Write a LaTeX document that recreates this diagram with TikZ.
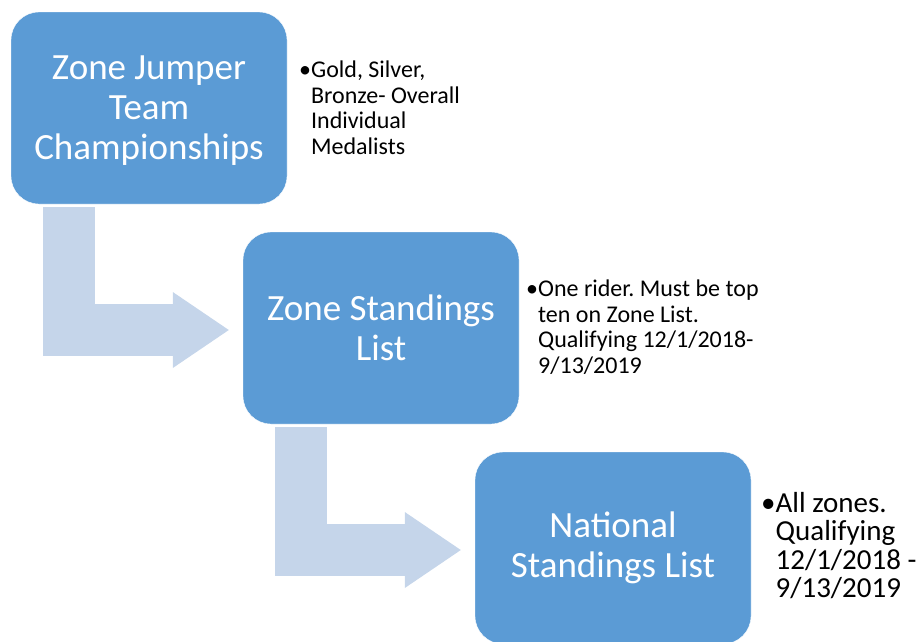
\documentclass[tikz,border=0pt]{standalone}
\usepackage{fontspec}
\setmainfont{Carlito}
\frenchspacing
\usepackage{tikz}
\usetikzlibrary{arrows.meta,positioning,backgrounds}
\definecolor{stageblue}{RGB}{91,155,213}
\definecolor{flowblue}{RGB}{197,213,234}
\tikzstyle{stage} = [rectangle, rounded corners=28pt, minimum width=276pt, minimum height=192pt, align=center, text=white, draw=white, fill=stageblue, font=\fontsize{37}{40}\selectfont]
\tikzstyle{note} = [anchor=north west, inner sep=0pt, align=left, font=\fontsize{24}{25.5}\selectfont]
\tikzstyle{bentarrow} = [line width=52pt, color=flowblue, line join=miter, -{Triangle[length=56pt, width=76pt, line width=0pt]}]

\begin{document}
\begin{tikzpicture}[x=1pt, y=-1pt]
\useasboundingbox (0,0) rectangle (920,641);
\clip (0,0) rectangle (920,641);

% stages
\node[stage, text depth=0pt] (zjtc) at (149,108) {Zone Jumper\\Team\\Championships};
\node[stage] (zsl) at (381,328) {Zone Standings\\List};
\node[stage] (nsl) at (613,548) {National\\Standings List};

% flow between stages
\begin{scope}[on background layer]
\draw[bentarrow] ([xshift=-80pt,yshift=-3pt]zjtc.south) |- ([xshift=-14pt,yshift=-2pt]zsl.west);
\draw[bentarrow] ([xshift=-80pt,yshift=-3pt]zsl.south) |- ([xshift=-14pt,yshift=-2pt]nsl.west);
\end{scope}

% notes
\node[note] (zjtc_note) at (299,61) {\textbullet Gold, Silver,\\\hphantom{\textbullet}Bronze- Overall\\\hphantom{\textbullet}Individual\\\hphantom{\textbullet}Medalists};
\node[note] (zsl_note) at (526,280) {\textbullet One rider. Must be top\\\hphantom{\textbullet}ten on Zone List.\\\hphantom{\textbullet}Qualifying 12/1/2018-\\\hphantom{\textbullet}9/13/2019};
\node[note, font=\fontsize{29}{28.5}\selectfont] (nsl_note) at (761,492) {\textbullet All zones.\\\hphantom{\textbullet}Qualifying\\\hphantom{\textbullet}12/1/2018 -\\\hphantom{\textbullet}9/13/2019};
\end{tikzpicture}
\end{document}
